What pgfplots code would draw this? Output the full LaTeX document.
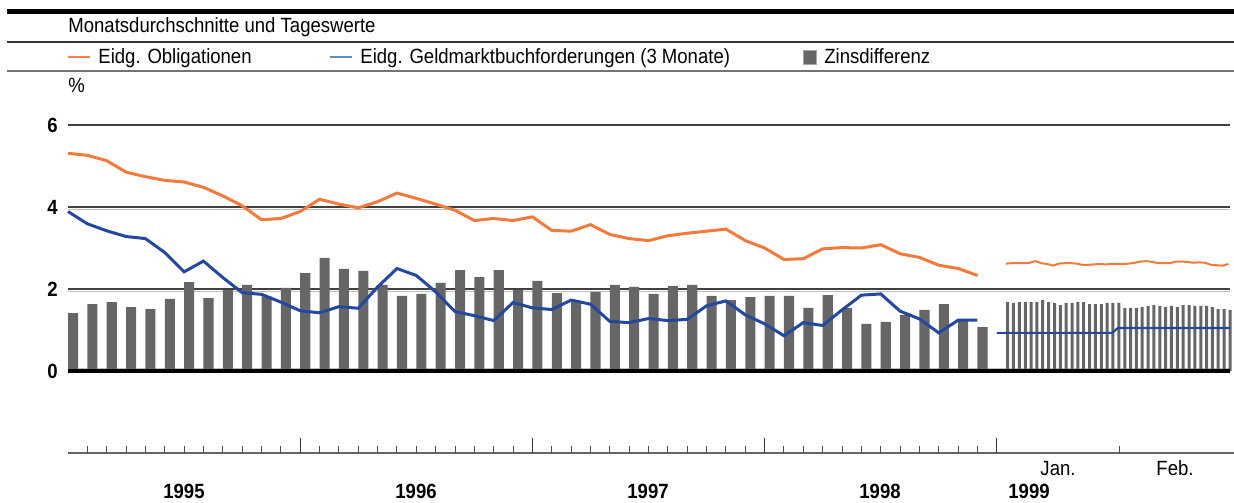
\documentclass[border=0pt]{standalone}
\usepackage{fontspec}
\setmainfont{Liberation Sans}[FakeStretch=0.9]
\usepackage{pgfplots}
\usepackage{pgfplotstable}
\pgfplotsset{compat=1.18}

\definecolor{obl}{RGB}{243,122,58}
\definecolor{gmb}{RGB}{36,72,160}
\definecolor{oblleg}{RGB}{245,128,72}
\definecolor{gmbleg}{RGB}{98,136,208}
\definecolor{zins}{RGB}{102,102,102}

% Monatsdurchschnitte Jan 1995 - Dez 1998 (m = Monat ab Jan 1995)
\pgfplotstableread{
m  obl  gmb  diff
0  5.31 3.89 1.41
1  5.26 3.59 1.63
2  5.13 3.42 1.68
3  4.85 3.28 1.56
4  4.74 3.23 1.51
5  4.65 2.89 1.76
6  4.61 2.42 2.17
7  4.48 2.68 1.78
8  4.27 2.28 1.98
9  4.03 1.91 2.10
10 3.69 1.87 1.82
11 3.72 1.68 2.03
12 3.89 1.47 2.39
13 4.19 1.42 2.76
14 4.07 1.57 2.49
15 3.98 1.53 2.44
16 4.13 2.05 2.10
17 4.34 2.50 1.83
18 4.21 2.33 1.88
19 4.07 1.93 2.15
20 3.92 1.45 2.46
21 3.67 1.35 2.29
22 3.72 1.23 2.46
23 3.67 1.67 1.98
24 3.76 1.54 2.20
25 3.43 1.50 1.90
26 3.41 1.73 1.70
27 3.57 1.63 1.93
28 3.33 1.21 2.10
29 3.23 1.18 2.05
30 3.18 1.28 1.88
31 3.30 1.23 2.07
32 3.36 1.26 2.10
33 3.41 1.59 1.83
34 3.46 1.71 1.73
35 3.18 1.37 1.80
36 3.00 1.15 1.83
37 2.72 0.86 1.83
38 2.74 1.18 1.54
39 2.98 1.11 1.85
40 3.01 1.49 1.54
41 3.00 1.85 1.15
42 3.08 1.88 1.20
43 2.86 1.46 1.37
44 2.77 1.27 1.49
45 2.58 0.93 1.63
46 2.50 1.24 1.24
47 2.33 1.24 1.07
}\monthly

% Tageswerte Jan/Feb 1999
\pgfplotstableread{
d     obl  diff
48.48 2.62 1.68
48.78 2.63 1.66
49.08 2.63 1.68
49.39 2.63 1.68
49.69 2.64 1.68
49.99 2.68 1.68
50.29 2.63 1.73
50.60 2.61 1.68
50.90 2.57 1.66
51.20 2.62 1.61
51.50 2.63 1.66
51.81 2.63 1.66
52.11 2.62 1.68
52.41 2.59 1.68
52.71 2.59 1.63
53.01 2.60 1.63
53.32 2.61 1.63
53.62 2.60 1.66
53.92 2.61 1.66
54.22 2.61 1.66
54.53 2.61 1.54
54.83 2.62 1.54
55.13 2.64 1.54
55.43 2.67 1.56
55.74 2.68 1.59
56.04 2.66 1.61
56.34 2.63 1.59
56.64 2.63 1.56
56.94 2.63 1.59
57.25 2.67 1.56
57.55 2.67 1.61
57.85 2.66 1.61
58.15 2.64 1.59
58.46 2.65 1.59
58.76 2.64 1.59
59.06 2.59 1.56
59.36 2.58 1.51
59.67 2.57 1.51
59.97 2.61 1.49
}\daily

\begin{document}
\begin{tikzpicture}[x=0.5bp,y=0.5bp,font=\fontsize{10.3bp}{12bp}\selectfont]
\useasboundingbox (0,0) rectangle (1234,-503);

% Kopf
\fill[black] (7,-9.5) rectangle (1234,-14);
\node[anchor=base west, inner sep=0] at (68,-33) {Monatsdurchschnitte und Tageswerte};
\draw[black!80, line width=0.6bp] (7,-42) -- (1234,-42);
\draw[oblleg, line width=1.2bp] (68,-57) -- (90,-57);
\node[anchor=base west, inner sep=0] at (98,-63.5) {Eidg. Obligationen};
\draw[gmbleg, line width=1.2bp] (330,-57) -- (352,-57);
\node[anchor=base west, inner sep=0] at (360,-63.5) {Eidg. Geldmarktbuchforderungen (3 Monate)};
\filldraw[fill=zins, draw=black!35, line width=0.4bp] (803,-50.5) rectangle (816,-64);
\node[anchor=base west, inner sep=0] at (824,-63.5) {Zinsdifferenz};
\draw[black!55, line width=0.6bp] (7,-71) -- (1234,-71);
\node[anchor=base west, inner sep=0] at (68,-93) {\%};

\begin{axis}[
    at={(34bp,-185.5bp)}, anchor=south west,
    x=9.675bp, y=20.5bp,
    xmin=0, xmax=60.05, ymin=0, ymax=6,
    clip=false,
    axis line style={draw=none},
    xtick=\empty,
    ytick={0,2,4,6},
    yticklabels={0,2,4,6},
    major tick length=0pt,
    ymajorgrids,
    grid style={black!75, line width=0.6bp},
    /pgf/number format/assume math mode=true,
    yticklabel style={font=\bfseries\fontsize{10.3bp}{12bp}\selectfont, inner sep=0pt, xshift=-5bp},
]
\draw[black!25, line width=0.5bp] ([yshift=-1bp]axis cs:0,4) -- ([yshift=-1bp]axis cs:60.05,4);
\draw[black!25, line width=0.5bp] ([yshift=-1bp]axis cs:0,2) -- ([yshift=-1bp]axis cs:60.05,2);
\draw[black!25, line width=0.5bp] ([yshift=1.2bp]axis cs:0,0) -- ([yshift=1.2bp]axis cs:60.05,0);

\addplot[ybar, bar width=0.52, bar shift=0pt, fill=zins, draw=none]
    table[x expr=\thisrow{m}+0.26, y=diff] {\monthly};
\addplot[ybar, bar width=0.155, bar shift=0pt, fill=zins, draw=none]
    table[x expr=\thisrow{d}+0.08, y=diff] {\daily};

\addplot[obl, line width=1.5bp] table[x=m, y=obl] {\monthly};
\addplot[gmb, line width=1.5bp] table[x=m, y=gmb] {\monthly};

\addplot[obl, line width=1bp] table[x=d, y=obl] {\daily};
\addplot[gmb, line width=1.1bp] coordinates {(48.0,0.93) (53.96,0.93) (54.26,1.05) (60.05,1.05)};

\draw[black, line width=1.6bp] (axis cs:0,0) -- (axis cs:60.05,0);
\end{axis}

% Zeitachse
\draw[black!60, line width=0.6bp] (68,-453) -- (1234,-453);
\foreach \m in {1,...,11,13,14,...,23,25,26,...,35,37,38,...,47}
  \draw[black!70, line width=0.5bp] (68+19.35*\m,-453) -- ++(0,7);
\foreach \m in {12,24,36,48}
  \draw[black!80, line width=0.5bp] (68+19.35*\m,-453) -- ++(0,15);
\draw[black!70, line width=0.5bp] (1119,-453) -- ++(0,7);

\node[anchor=base, inner sep=0] at (1058,-475.5) {Jan.};
\node[anchor=base, inner sep=0] at (1175,-475.5) {Feb.};
\foreach \x/\y in {184/1995,416/1996,648/1997,880/1998,1029/1999}
  \node[anchor=base, inner sep=0, font=\bfseries\fontsize{10.3bp}{12bp}\selectfont] at (\x,-498.5) {\y};
\end{tikzpicture}
\end{document}
